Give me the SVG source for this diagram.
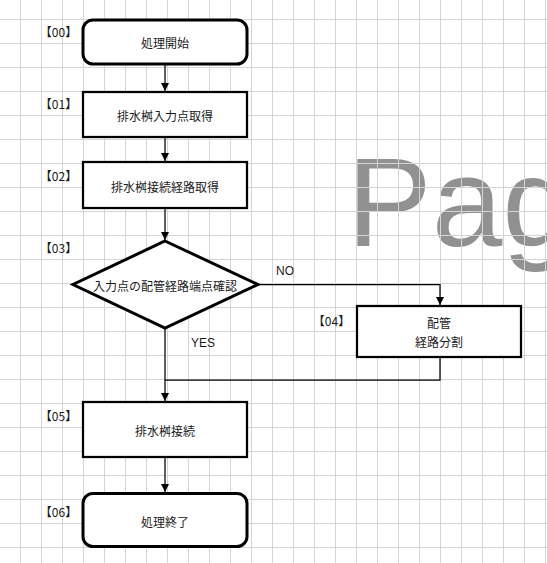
<svg xmlns="http://www.w3.org/2000/svg" width="547" height="563" viewBox="0 0 547 563">
  <style>
    .grid { stroke: #d4d4d4; stroke-width: 1; fill: none; }
    .mark { font-family: "Liberation Sans", Arial, sans-serif; font-size: 127px; fill: #919191; }
    .box { fill: #ffffff; stroke: #000000; stroke-width: 2.25; }
    .term { fill: #ffffff; stroke: #000000; stroke-width: 3; }
    .cond { fill: #ffffff; stroke: #000000; stroke-width: 3; stroke-linejoin: miter; }
    .txt { font-family: "Noto Sans CJK JP", "Noto Sans", sans-serif; font-size: 12px; fill: #1a1a1a; text-anchor: middle; dominant-baseline: central; }
    .tag { font-family: "Noto Sans CJK JP", "Noto Sans", sans-serif; font-size: 12px; fill: #1a1a1a; text-anchor: middle; dominant-baseline: central; }
    .lbl { font-family: "Liberation Sans", Arial, sans-serif; font-size: 12px; fill: #1a1a1a; }
    .edge { stroke: #000000; stroke-width: 1.25; fill: none; }
  </style>
  <defs>
    <marker id="arrow" viewBox="0 0 8 8" refX="8" refY="4" markerWidth="8" markerHeight="8" markerUnits="userSpaceOnUse" orient="auto">
      <path d="M0 0L8 4L0 8Z" fill="#000000"/>
    </marker>
  </defs>

  <rect x="0" y="0" width="547" height="563" fill="#ffffff"/>

  <!-- page watermark -->
  <text class="mark" x="347" y="246">Pag</text>

  <!-- sheet grid -->
  <path class="grid" d="M20.5 0V563M41.5 0V563M62.5 0V563M83.5 0V563M104.5 0V563M125.5 0V563M146.5 0V563M167.5 0V563M188.5 0V563M209.5 0V563M230.5 0V563M251.5 0V563M272.5 0V563M293.5 0V563M314.5 0V563M335.5 0V563M356.5 0V563M377.5 0V563M398.5 0V563M419.5 0V563M440.5 0V563M461.5 0V563M482.5 0V563M503.5 0V563M524.5 0V563M545.5 0V563
    M0 19.5H547M0 43.5H547M0 67.5H547M0 91.5H547M0 115.5H547M0 139.5H547M0 163.5H547M0 187.5H547M0 211.5H547M0 235.5H547M0 259.5H547M0 283.5H547M0 307.5H547M0 331.5H547M0 355.5H547M0 379.5H547M0 403.5H547M0 427.5H547M0 451.5H547M0 475.5H547M0 499.5H547M0 523.5H547M0 547.5H547"/>

  <!-- connectors -->
  <g id="connectors">
    <path class="edge" d="M165 64V91" marker-end="url(#arrow)"/>
    <path class="edge" d="M165 137V161" marker-end="url(#arrow)"/>
    <path class="edge" d="M165 208V240" marker-end="url(#arrow)"/>
    <path class="edge" d="M258 284.5H440V305" marker-end="url(#arrow)"/>
    <path class="edge" d="M440 357V380H165"/>
    <path class="edge" d="M165 328V401" marker-end="url(#arrow)"/>
    <path class="edge" d="M165 457V492" marker-end="url(#arrow)"/>
    <text class="lbl" x="276" y="275">NO</text>
    <text class="lbl" x="191" y="347">YES</text>
  </g>

  <!-- 00 start -->
  <g id="n00">
    <rect class="term" x="83" y="20" width="164" height="44" rx="10" ry="10"/>
    <text class="txt" x="165" y="42.5">処理開始</text>
    <text class="tag" x="58.5" y="31">【00】</text>
  </g>

  <!-- 01 -->
  <g id="n01">
    <rect class="box" x="83" y="92" width="164" height="45"/>
    <text class="txt" x="165" y="115">排水桝入力点取得</text>
    <text class="tag" x="58.5" y="103">【01】</text>
  </g>

  <!-- 02 -->
  <g id="n02">
    <rect class="box" x="83" y="162" width="164" height="46"/>
    <text class="txt" x="165" y="186">排水桝接続経路取得</text>
    <text class="tag" x="58.5" y="175">【02】</text>
  </g>

  <!-- 03 decision -->
  <g id="n03">
    <path class="cond" d="M165 241L258 284.5L165 328L73 284.5Z"/>
    <text class="txt" x="165" y="285.5">入力点の配管経路端点確認</text>
    <text class="tag" x="58.5" y="247">【03】</text>
  </g>

  <!-- 04 -->
  <g id="n04">
    <rect class="box" x="357" y="306" width="164" height="51"/>
    <text class="txt" x="439" y="322.5">配管</text>
    <text class="txt" x="439" y="341.5">経路分割</text>
    <text class="tag" x="331.5" y="320">【04】</text>
  </g>

  <!-- 05 -->
  <g id="n05">
    <rect class="box" x="83" y="402" width="164" height="55"/>
    <text class="txt" x="165" y="430.5">排水桝接続</text>
    <text class="tag" x="58.5" y="415">【05】</text>
  </g>

  <!-- 06 end -->
  <g id="n06">
    <rect class="term" x="83" y="493.5" width="164" height="53" rx="10" ry="10"/>
    <text class="txt" x="165" y="521.5">処理終了</text>
    <text class="tag" x="58.5" y="511">【06】</text>
  </g>
</svg>
